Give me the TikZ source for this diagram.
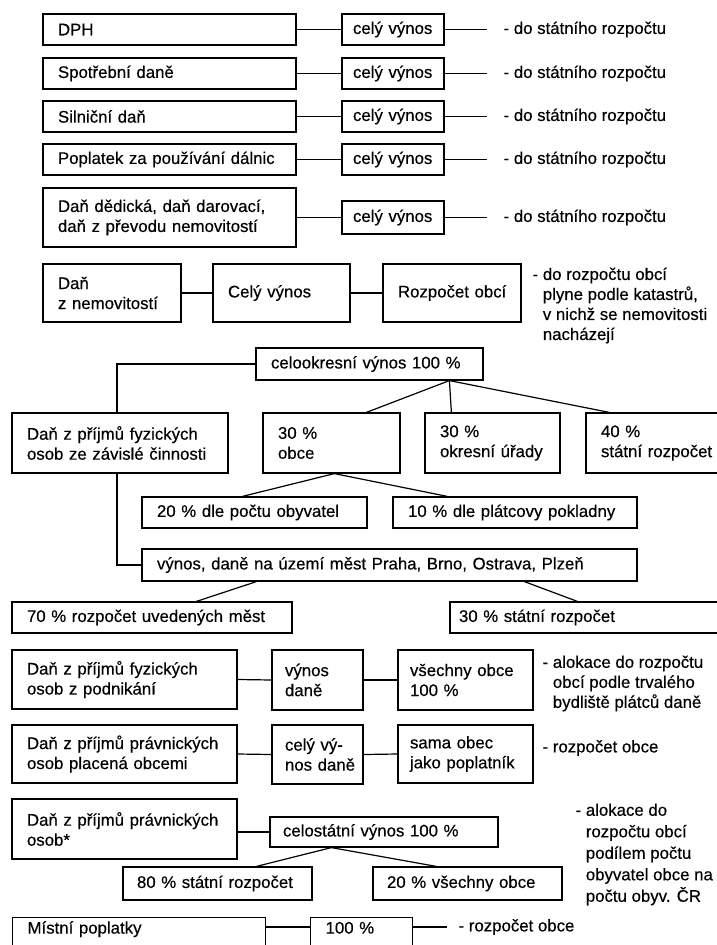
\documentclass[tikz,border=0pt]{standalone}
\usepackage{fontspec}
\setmainfont{Liberation Sans}[FakeBold=0.4]
\usetikzlibrary{calc}
\newcommand\zbox[7][15]{%
  \pgfmathsetmacro\zbw{#5-#3}%
  \pgfmathsetmacro\zbh{#6-#4}%
  \pgfmathsetmacro\zbt{#5-#3-2*#1}%
  \pgfmathsetmacro\zbx{(#3+#5)/2}%
  \pgfmathsetmacro\zby{(#4+#6)/2}%
  \node[bx, minimum width=\zbw pt, minimum height=\zbh pt, text width=\zbt pt] (#2) at (\zbx,\zby) {#7};}
\begin{document}
\begin{tikzpicture}[x=1pt,y=-1pt,line width=1.2pt,
  font=\fontsize{16.8}{20}\selectfont,
  bx/.style={draw, inner sep=0pt, align=left},
  lbl/.style={inner sep=0pt, anchor=west},
  nlbl/.style={inner sep=0pt, anchor=north west, align=left}]
\useasboundingbox (0,0) rectangle (717,945);
% rows 1-5
\zbox{dph}{43}{14}{296}{45}{DPH}
\zbox[11]{v1}{342}{14}{444}{45}{celý výnos}
\node[lbl] (t1) at (503,29.5) {- do státního rozpočtu};
\zbox{spot}{43}{58}{296}{89}{Spotřební daně}
\zbox[11]{v2}{342}{58}{444}{89}{celý výnos}
\node[lbl] (t2) at (503,73.5) {- do státního rozpočtu};
\zbox{siln}{43}{101}{296}{132}{Silniční daň}
\zbox[11]{v3}{342}{101}{444}{132}{celý výnos}
\node[lbl] (t3) at (503,116.5) {- do státního rozpočtu};
\zbox{popl}{43}{144}{296}{175}{Poplatek za používání dálnic}
\zbox[11]{v4}{342}{144}{444}{175}{celý výnos}
\node[lbl] (t4) at (503,159.5) {- do státního rozpočtu};
\zbox{dedic}{43}{188}{296}{247}{Daň dědická, daň darovací,\\daň z převodu nemovitostí}
\zbox[11]{v5}{342}{201}{444}{234}{celý výnos}
\node[lbl] (t5) at (503,217.5) {- do státního rozpočtu};
\foreach \a/\b/\c in {dph/v1/t1,spot/v2/t2,siln/v3/t3,popl/v4/t4,dedic/v5/t5}{
  \draw (\a.east) -- (\b.west);
  \draw (\b.east) -- ([xshift=-16pt]\c.west);
}
% row 6
\zbox{nem}{43}{264}{181}{322}{Daň\\z nemovitostí}
\zbox{cv}{213}{264}{350}{322}{Celý výnos}
\zbox[8]{rozo}{383}{264}{521}{322}{\hspace*{7pt}Rozpočet obcí}
\node[nlbl] (tnem) at (532,267) {- do rozpočtu obcí\\\phantom{- }plyne podle katastrů,\\\phantom{- }v nichž se nemovitosti\\\phantom{- }nacházejí};
\draw (nem.east) -- (cv.west);
\draw (cv.east) -- (rozo.west);
% row 7
\zbox{celo}{256}{348}{483}{380}{celookresní výnos 100 \%}
\zbox{dfo}{12}{413}{228}{473}{Daň z příjmů fyzických\\osob ze závislé činnosti}
\zbox{obce}{263}{413}{400}{473}{30 \%\\obce}
\zbox{okres}{425}{413}{560}{473}{30 \%\\okresní úřady}
\zbox{stat}{586}{413}{730}{473}{40 \%\\státní rozpočet}
\draw (celo.west) -| ([xshift=-3pt]dfo.north);
\coordinate (ap1) at ([xshift=194pt]celo.south west);
\draw (ap1) -- ([xshift=104pt]obce.north west);
\draw (ap1) -- ([xshift=27pt]okres.north west);
\draw (ap1) -- ([xshift=24pt]stat.north west);
% row 8
\zbox{p20}{142}{497}{367}{528}{20 \% dle počtu obyvatel}
\zbox{p10}{393}{497}{637}{528}{10 \% dle plátcovy pokladny}
\coordinate (ap2) at ([xshift=72pt]obce.south west);
\draw (ap2) -- ([xshift=101pt]p20.north west);
\draw (ap2) -- ([xshift=55pt]p10.north west);
% row 9-10
\zbox{vyn}{142}{549}{637}{581}{výnos, daně na území měst Praha, Brno, Ostrava, Plzeň}
\draw ([xshift=-3pt]dfo.south) |- (vyn.west);
\zbox{m70}{12}{602}{292}{633}{70 \% rozpočet uvedených měst}
\zbox[9]{s30}{450}{602}{730}{633}{30 \% státní rozpočet}
\draw ([xshift=115pt]vyn.south west) -- ([xshift=185pt]m70.north west);
\draw ([xshift=383pt]vyn.south west) -- ([xshift=128pt]s30.north west);
% row 11
\zbox{dfp}{12}{650}{237}{709}{Daň z příjmů fyzických\\osob z podnikání}
\zbox[9]{vd}{272}{650}{363}{710}{\hspace*{4pt}výnos\\\hspace*{4pt}daně}
\zbox[12]{vo}{398}{650}{533}{710}{všechny obce\\100 \%}
\node[nlbl] (talok) at (542,655) {- alokace do rozpočtu\\\phantom{- }obcí podle trvalého\\\phantom{- }bydliště plátců daně};
\draw (dfp.east) -- (vd.west);
\draw (vd.east) -- (vo.west);
% row 12
\zbox{dpp}{12}{725}{237}{783}{Daň z příjmů právnických\\osob placená obcemi}
\zbox[7]{cvd}{272}{725}{363}{784}{\hspace*{6pt}celý vý-\\\hspace*{6pt}nos daně}
\zbox[12]{so}{398}{725}{533}{783}{sama obec\\jako poplatník}
\node[lbl] (trozp) at (542,748) {- rozpočet obce};
\draw (dpp.east) -- (cvd.west);
\draw (cvd.east) -- (so.west);
% row 13
\zbox{dpo}{12}{799}{237}{859}{Daň z příjmů právnických\\osob*}
\zbox[13]{celost}{270}{817}{498}{847}{celostátní výnos 100 \%}
\zbox[14]{p80}{123}{867}{312}{900}{80 \% státní rozpočet}
\zbox[14]{p20b}{373}{867}{562}{900}{20 \% všechny obce}
\node[nlbl, font=\fontsize{16.8}{21.5}\selectfont] (talok2) at (575,803) {- alokace do\\\phantom{- }rozpočtu obcí\\\phantom{- }podílem počtu\\\phantom{- }obyvatel obce na\\\phantom{- }počtu obyv. ČR};
\draw (dpo.east |- celost.west) -- (celost.west);
\coordinate (ap3) at ([xshift=62pt]celost.south west);
\draw (ap3) -- ([xshift=134pt]p80.north west);
\draw (ap3) -- ([xshift=64pt]p20b.north west);
% row 14
\node[bx, anchor=north west, minimum width=253pt, text width=223pt, text height=16pt, text depth=28pt] (mp) at (12,917) {Místní poplatky};
\node[bx, anchor=north west, minimum width=102pt, text width=72pt, text height=16pt, text depth=28pt] (p100) at (310,917) {100 \%};
\node[lbl] (tlast) at (458,927) {- rozpočet obce};
\draw ([yshift=-10pt]mp.north east) -- ([yshift=-10pt]p100.north west);
\draw ([yshift=-10pt]p100.north east) -- ([xshift=-11pt]tlast.west);
\end{tikzpicture}
\end{document}
